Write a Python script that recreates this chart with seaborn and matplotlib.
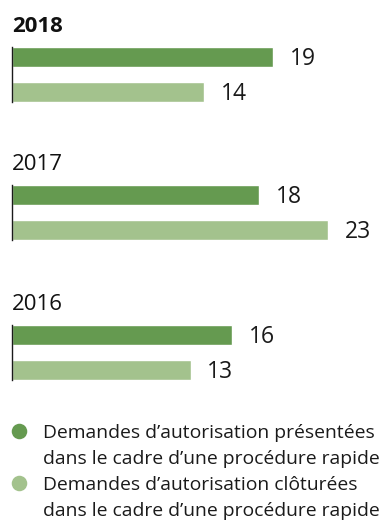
import matplotlib
matplotlib.use("Agg")
import matplotlib.pyplot as plt
import seaborn as sns
import pandas as pd

sns.set_style("white")
plt.rcParams["font.family"] = ["Open Sans", "DejaVu Sans"]

years = ["2018", "2017", "2016"]
series = [
    "Demandes d\u2019autorisation présentées\ndans le cadre d\u2019une procédure rapide",
    "Demandes d\u2019autorisation clôturées\ndans le cadre d\u2019une procédure rapide",
]
presented = [19, 18, 16]
closed = [14, 23, 13]
colors = ["#659a50", "#a3c28d"]

W, H = 385, 528
fig = plt.figure(figsize=(W / 100, H / 100), dpi=100)

def fx(px):
    return px / W

def fy(py):
    return 1 - py / H

group_top = [47, 185, 325]
group_h = 55
left = 12
x_max = 27
bar_w = 0.56

for i, year in enumerate(years):
    df = pd.DataFrame({"serie": series, "value": [presented[i], closed[i]]})
    ax = fig.add_axes([fx(left), fy(group_top[i] + group_h), fx(371), group_h / H])
    sns.barplot(data=df, x="value", y="serie", hue="serie", palette=colors,
                orient="h", width=bar_w, legend=False, ax=ax, saturation=1)
    ax.set_xlim(0, x_max)
    ax.set_ylim(1 + bar_w / 2, -bar_w / 2)
    ax.set_xlabel("")
    ax.set_ylabel("")
    ax.set_xticks([])
    ax.set_yticks([])
    for s in ["top", "right", "bottom"]:
        ax.spines[s].set_visible(False)
    ax.spines["left"].set_color("#1a1a1a")
    ax.spines["left"].set_linewidth(1.0)
    for j, v in enumerate(df["value"]):
        ax.annotate(str(v), xy=(v, j), xytext=(12, -1.5), textcoords="offset points",
                    va="center", ha="left", fontsize=16.5, color="#1a1a1a")
    baseline = group_top[i] - 15
    fig.text(fx(left), fy(baseline), year, ha="left", va="baseline", fontsize=16,
             color="#111111", fontweight="bold" if i == 0 else "normal")

# legend
lg = fig.add_axes([0, 0, 1, 1])
lg.set_xlim(0, W)
lg.set_ylim(H, 0)
lg.axis("off")
leg_base = [438, 490]
line_step = 26
for k, name in enumerate(series):
    lg.scatter([19], [leg_base[k] - 7], s=125, color=colors[k], linewidths=0)
    for n, line in enumerate(name.split("\n")):
        lg.text(43, leg_base[k] + n * line_step, line, ha="left", va="baseline",
                fontsize=13.9, color="#1a1a1a")

fig.savefig("out.png", dpi=100)
